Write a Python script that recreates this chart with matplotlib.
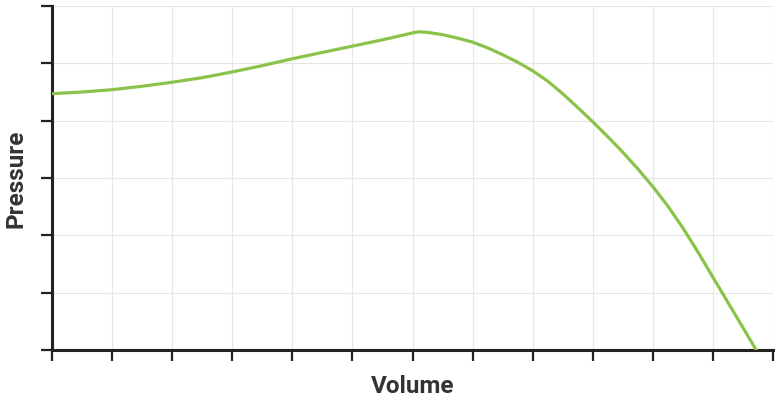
import numpy as np
import matplotlib
matplotlib.use("Agg")
import matplotlib.pyplot as plt

# --- Data (in grid units) ---
volume = [0, 0.5, 1, 1.5, 2, 2.5, 3, 3.5, 4, 4.5, 5, 5.5, 5.75, 6, 6.1,
          6.25, 6.5, 6.75, 7, 7.25, 7.5, 7.75, 8, 8.25, 8.5, 8.75, 9,
          9.25, 9.5, 9.75, 10, 10.25, 10.5, 10.75, 11, 11.25, 11.5, 11.72]
pressure = [4.47, 4.50, 4.54, 4.60, 4.67, 4.75, 4.85, 4.96, 5.08, 5.19, 5.30,
            5.41, 5.47, 5.53, 5.55, 5.54, 5.50, 5.44, 5.37, 5.27, 5.15, 5.02,
            4.87, 4.69, 4.47, 4.23, 3.98, 3.72, 3.45, 3.16, 2.85, 2.51, 2.13,
            1.71, 1.27, 0.83, 0.39, 0.0]
x_ticks = np.arange(0, 13)
y_ticks = np.arange(0, 7)

# --- Style ---
line_color = "#8BC34A"
axis_color = "#222222"
grid_color = "#e6e6e6"
plt.rcParams["font.family"] = ["Roboto", "DejaVu Sans"]

fig = plt.figure(figsize=(7.79, 4.02), dpi=100)
ax = fig.add_axes([52 / 779, 1 - 351 / 402, (773 - 52) / 779, (351 - 7) / 402])

ax.plot(volume, pressure, color=line_color, linewidth=2.3,
        solid_joinstyle="round", zorder=3)

ax.set_xlim(0, 12)
ax.set_ylim(0, 6)
ax.set_xticks(x_ticks)
ax.set_yticks(y_ticks)
ax.set_xticklabels([])
ax.set_yticklabels([])
ax.grid(True, color=grid_color, linewidth=0.8)
ax.set_axisbelow(True)

for side in ["top", "right"]:
    ax.spines[side].set_visible(False)
for side in ["left", "bottom"]:
    ax.spines[side].set_color(axis_color)
    ax.spines[side].set_linewidth(2.2)
ax.tick_params(direction="out", length=8, width=1.6, color=axis_color)

ax.set_xlabel("Volume", fontsize=17.5, fontweight="bold", color="#333333",
              labelpad=6)
ax.set_ylabel("Pressure", fontsize=17.5, fontweight="bold", color="#333333",
              labelpad=6)

plt.savefig("out.png", dpi=100)
